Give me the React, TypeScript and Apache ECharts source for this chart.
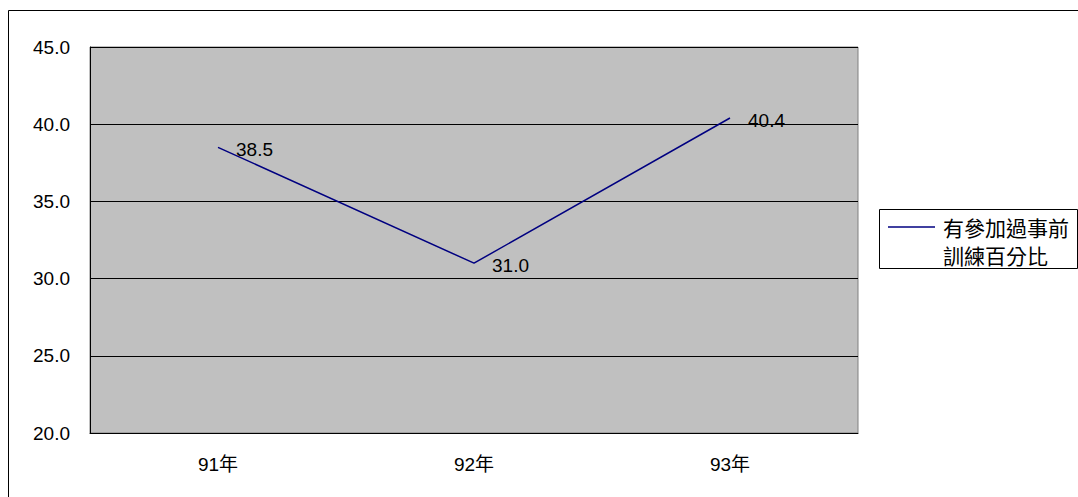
import React, { useEffect, useRef } from "react";
import * as echarts from "echarts";

const categories = ["91年", "92年", "93年"];
const values = [38.5, 31.0, 40.4];
const seriesName = "有參加過事前訓練百分比";
const legendLines = ["有參加過事前", "訓練百分比"];

const FONT = "'Liberation Sans', Arial, 'Noto Sans CJK TC', sans-serif";
const CJK_FONT = "'Noto Sans CJK TC', 'Noto Sans CJK SC', sans-serif";

export default function App() {
  const ref = useRef<HTMLDivElement>(null);
  useEffect(() => {
    if (!ref.current) return;
    const chart = echarts.init(ref.current, null, { renderer: "svg" });
    chart.setOption({
      animation: false,
      backgroundColor: "#ffffff",
      textStyle: { fontFamily: FONT },
      grid: {
        left: 90,
        top: 47,
        right: 220,
        bottom: 64,
        show: true,
        backgroundColor: "#C0C0C0",
        borderColor: "#808080",
        borderWidth: 1,
      },
      xAxis: {
        type: "category",
        data: categories,
        boundaryGap: true,
        axisLine: { lineStyle: { color: "#000", width: 1 } },
        axisTick: { inside: true, length: 5, lineStyle: { color: "#000" } },
        axisLabel: { color: "#000", fontSize: 19, fontFamily: FONT, margin: 22 },
        splitLine: { show: false },
      },
      yAxis: {
        type: "value",
        min: 20,
        max: 45,
        interval: 5,
        axisLine: { show: true, lineStyle: { color: "#000", width: 1 } },
        axisTick: { show: true, inside: true, length: 4, lineStyle: { color: "#000" } },
        axisLabel: {
          color: "#000",
          fontSize: 19,
          fontFamily: FONT,
          margin: 20,
          formatter: (v: number) => v.toFixed(1),
        },
        splitLine: { show: true, lineStyle: { color: "#000", width: 1 } },
      },
      series: [
        {
          name: seriesName,
          type: "line",
          data: values,
          symbol: "circle",
          symbolSize: 0,
          showSymbol: true,
          itemStyle: { color: "#000080" },
          lineStyle: { color: "#000080", width: 1.5 },
          label: {
            show: true,
            position: "right",
            distance: 18,
            offset: [0, 2],
            color: "#000",
            fontSize: 19,
            fontFamily: FONT,
            formatter: (p: any) => Number(p.value).toFixed(1),
          },
        },
      ],
      graphic: [
        {
          type: "rect",
          shape: { x: 8.5, y: 10.5, width: 1200, height: 600 },
          style: { fill: "none", stroke: "#000", lineWidth: 1 },
          silent: true,
          z: 100,
        },
        {
          type: "rect",
          shape: { x: 879.5, y: 209.5, width: 198, height: 59 },
          style: { fill: "#fff", stroke: "#000", lineWidth: 1 },
          z: 100,
        },
        {
          type: "line",
          shape: { x1: 888, y1: 227, x2: 935, y2: 227 },
          style: { stroke: "#000080", lineWidth: 1.5 },
          z: 101,
        },
        {
          type: "text",
          x: 943,
          y: 227,
          style: {
            text: legendLines[0],
            fontSize: 21,
            fontFamily: CJK_FONT,
            fill: "#000",
            verticalAlign: "middle",
            align: "left",
          },
          z: 101,
        },
        {
          type: "text",
          x: 943,
          y: 255,
          style: {
            text: legendLines[1],
            fontSize: 21,
            fontFamily: CJK_FONT,
            fill: "#000",
            verticalAlign: "middle",
            align: "left",
          },
          z: 101,
        },
      ],
    });
    return () => chart.dispose();
  }, []);
  return (
    <div
      ref={ref}
      style={{ position: "fixed", left: 0, top: 0, width: 1078, height: 497 }}
    />
  );
}
